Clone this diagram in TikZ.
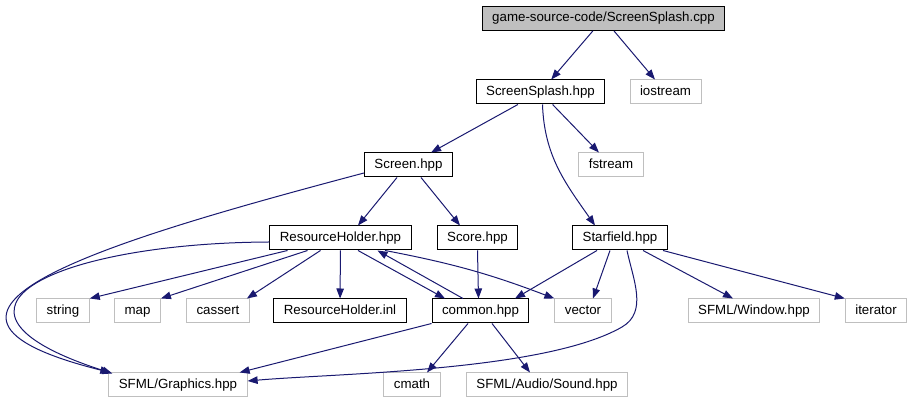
\documentclass[tikz,border=0pt]{standalone}
\usepackage{fontspec}
\setmainfont{Liberation Sans}
\usetikzlibrary{arrows.meta}
\definecolor{edgeblue}{HTML}{191970}
\definecolor{sysgray}{HTML}{BFBFBF}

\begin{document}
\begin{tikzpicture}[
x=1pt, y=1pt,
box/.style={rectangle, draw, line width=1pt, minimum height=24pt, inner xsep=10pt, inner ysep=0pt, text height=9.5pt, text depth=2.5pt, font=\fontsize{13.3}{16}\selectfont},
sysbox/.style={box, draw=sysgray},
srcbox/.style={box, fill=sysgray},
line/.style={draw=edgeblue, line width=1pt, -{Triangle[length=10pt, width=7.5pt]}}
]
\useasboundingbox (0,0) rectangle (914,403);

\node[srcbox] (cpp) at (603.5,384.5) {game-source-code/ScreenSplash.cpp};
\node[box] (splash) at (540.5,311) {ScreenSplash.hpp};
\node[sysbox] (iostream) at (665.5,311) {iostream};
\node[box] (screen) at (408.5,238) {Screen.hpp};
\node[sysbox] (fstream) at (611,238) {fstream};
\node[box] (resholder) at (340.5,165) {ResourceHolder.hpp};
\node[box] (score) at (477.5,165) {Score.hpp};
\node[box] (starfield) at (620,165) {Starfield.hpp};
\node[sysbox] (string) at (63,92) {string};
\node[sysbox] (map) at (137.5,92) {map};
\node[sysbox] (cassert) at (218,92) {cassert};
\node[box] (resinl) at (340,92) {ResourceHolder.inl};
\node[box] (common) at (480.5,92) {common.hpp};
\node[sysbox] (vector) at (583,92) {vector};
\node[sysbox] (sfwindow) at (754,92) {SFML/Window.hpp};
\node[sysbox] (iterator) at (876,92) {iterator};
\node[sysbox] (sfgraphics) at (178,18) {SFML/Graphics.hpp};
\node[sysbox] (cmath) at (412,18) {cmath};
\node[sysbox] (sfsound) at (547,18) {SFML/Audio/Sound.hpp};
\coordinate (sfbend) at (622,76);

\draw[line] (cpp) -- (splash);
\draw[line] (cpp) -- (iostream);
\draw[line] (splash) -- (screen);
\draw[line] (splash) -- (fstream);
\draw[line] ([xshift=2pt]splash.south) to[out=-88, in=125] ([xshift=-25pt]starfield.north);
\draw[line] ([xshift=-11.5pt]screen.south) -- ([xshift=17.5pt]resholder.north);
\draw[line] ([xshift=12.5pt]screen.south) -- ([xshift=-17.5pt]score.north);
\draw[line] ([yshift=-8pt]screen.west) .. controls +(-264,-70) and +(-240,60) .. ([xshift=2pt]sfgraphics.north west);
\draw[line] ([yshift=-4pt]resholder.west) .. controls +(-209,-1) and +(-202,65) .. ([xshift=4pt,yshift=-1pt]sfgraphics.north west);
\draw[line] ([xshift=-53pt]resholder.south) -- (string.north east);
\draw[line] ([xshift=-33pt]resholder.south) -- (map.north east);
\draw[line] ([xshift=-20pt]resholder.south) -- ([xshift=-3pt]cassert.north east);
\draw[line] (resholder) -- (resinl);
\draw[line] ([xshift=17.5pt]resholder.south) -- ([xshift=-35.5pt]common.north);
\draw[line] ([xshift=44.5pt]resholder.south) to[bend left=5] (vector.north west);
\draw[line] (score.south) -- ([xshift=-2pt]common.north);
\draw[line] ([xshift=-17.5pt]common.north) -- ([xshift=37pt]resholder.south);
\draw[line] ([xshift=-23pt]starfield.south) -- ([xshift=34.5pt]common.north);
\draw[line] ([xshift=-10pt]starfield.south) -- ([xshift=10pt]vector.north);
\draw[line] ([xshift=23pt]starfield.south) -- ([xshift=-21pt]sfwindow.north);
\draw[line] ([xshift=43pt]starfield.south) -- (iterator.north west);
\draw[line] ([xshift=7pt]starfield.south) to[out=-78, in=30] (sfbend) to[out=210, in=5, looseness=0.6] ([yshift=4pt]sfgraphics.east);
\draw[line] (common.south west) -- ([xshift=-8pt]sfgraphics.north east);
\draw[line] ([xshift=-12.5pt]common.south) -- ([xshift=15pt]cmath.north);
\draw[line] ([xshift=11.5pt]common.south) -- ([xshift=-17pt]sfsound.north);

\end{tikzpicture}
\end{document}
